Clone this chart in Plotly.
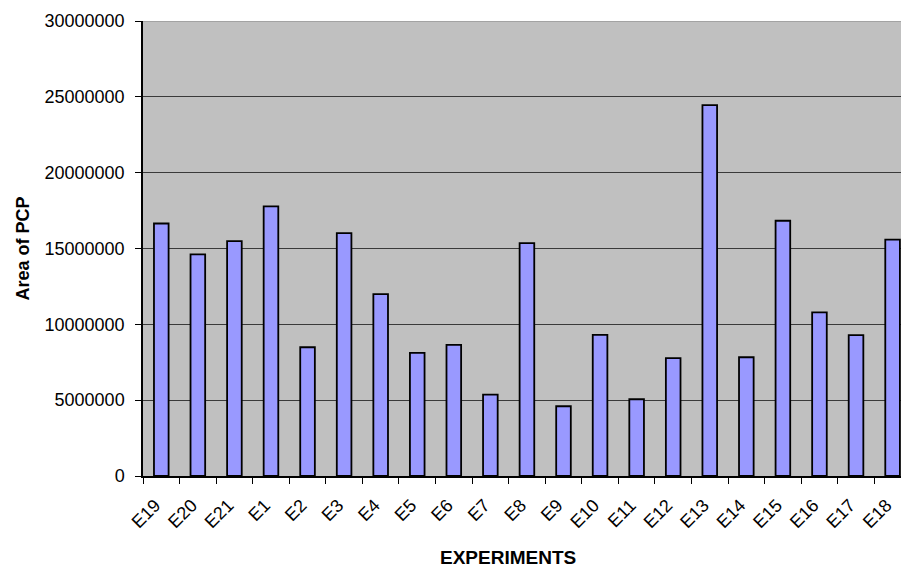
import plotly.graph_objects as go

# Experiment labels in run order and the measured PCP peak areas
experiments = ["E19", "E20", "E21", "E1", "E2", "E3", "E4", "E5", "E6", "E7", "E8",
               "E9", "E10", "E11", "E12", "E13", "E14", "E15", "E16", "E17", "E18"]
pcp_area = [16650000, 14610000, 15490000, 17780000, 8490000, 16020000, 11990000,
            8120000, 8650000, 5370000, 15360000, 4600000, 9310000, 5060000,
            7770000, 24450000, 7830000, 16830000, 10790000, 9290000, 15580000]

y_ticks = [0, 5000000, 10000000, 15000000, 20000000, 25000000, 30000000]

FONT = "Liberation Sans, Arial, Helvetica, sans-serif"

fig = go.Figure(
    go.Bar(
        x=experiments,
        y=pcp_area,
        marker=dict(color="#9999FF", line=dict(color="#000000", width=1.8)),
        showlegend=False,
    )
)

fig.update_layout(
    width=901,
    height=569,
    margin=dict(l=143, r=0, t=21, b=93),
    paper_bgcolor="#FFFFFF",
    plot_bgcolor="#C0C0C0",
    bargap=0.6,
    font=dict(family=FONT, size=18, color="#000000"),
    annotations=[
        dict(text="<b>EXPERIMENTS</b>", xref="paper", yref="paper",
             x=(508 - 143) / 758, y=-(557 - 476) / 455, xanchor="center", yanchor="middle",
             showarrow=False, font=dict(family=FONT, size=19)),
        dict(text="<b>Area of PCP</b>", xref="paper", yref="paper",
             x=-(143 - 22) / 758, y=0.5, xanchor="center", yanchor="middle",
             textangle=-90, showarrow=False, font=dict(family=FONT, size=18)),
    ],
    shapes=[
        dict(type="line", xref="paper", yref="y", x0=0, x1=1, y0=30000000, y1=30000000,
             line=dict(color="#9a9a9a", width=1.5), layer="above"),
    ],
)

fig.update_xaxes(
    type="category",
    range=[-0.5, 20.23],
    tickson="boundaries",
    ticks="outside",
    ticklen=6,
    tickcolor="#000000",
    tickangle=-45,
    ticklabelstandoff=10,
    ticklabelshift=-6,
    showline=True,
    linecolor="#000000",
    linewidth=1.5,
    showgrid=False,
    tickfont=dict(family=FONT, size=18),
)

fig.update_yaxes(
    range=[0, 30000000],
    tickvals=y_ticks,
    ticktext=[str(v) for v in y_ticks],
    ticks="outside",
    ticklen=6,
    tickcolor="#000000",
    ticklabelstandoff=7,
    showline=True,
    linecolor="#000000",
    linewidth=1.5,
    showgrid=True,
    gridcolor="#3a3a3a",
    gridwidth=1,
    zeroline=False,
    tickfont=dict(family=FONT, size=18),
)

fig.write_html("out.html")
